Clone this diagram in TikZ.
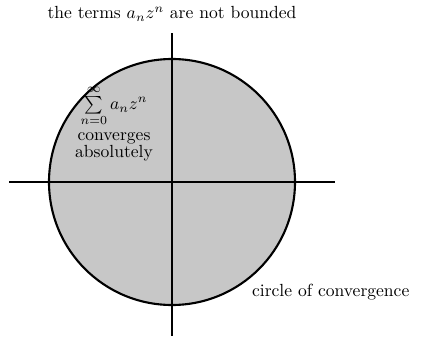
\documentclass[tikz,border=0pt]{standalone}
\usepackage{tikz}
\usetikzlibrary{calc, positioning}

\begin{document}
\begin{tikzpicture}[
    x=0.02cm, y=-0.02cm,
    axis/.style={semithick},
    disk/.style={draw, very thick, fill=black!22},
    lbl/.style={font=\normalsize, inner sep=1pt}
]

    % 1. Moldura e pontos principais
    \useasboundingbox (0,0) rectangle (422,338);
    \coordinate (O) at (172,182);
    \coordinate (W) at (9,182);
    \coordinate (E) at (335,182);
    \coordinate (N) at (172,33);
    \coordinate (S) at (172,336);

    % 2. Disco de convergencia
    \draw[disk] (O) circle (123);

    % 3. Eixos
    \draw[axis] (W) -- (E);
    \draw[axis] (N) -- (S);

    % 4. Textos
    \node[lbl] (top) at (172,14) {the terms $a_n z^n$ are not bounded};
    \node[lbl] (sum) at (114,106)
        {$\sum\limits_{n=0}^{\infty} a_n z^n$};
    \node[lbl, align=center] (conv) at (114,147)
        {converges\\[-2pt] absolutely};
    \node[lbl, anchor=west] (circ) at (250,292) {circle of convergence};

\end{tikzpicture}
\end{document}
